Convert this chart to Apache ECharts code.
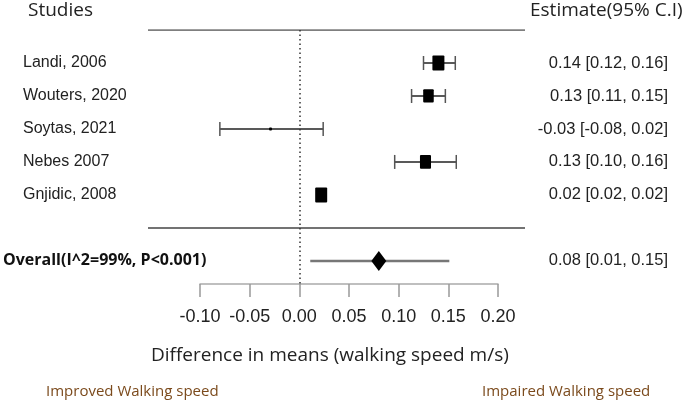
<!DOCTYPE html>
<html><head><meta charset="utf-8">
<script src="https://cdn.jsdelivr.net/npm/echarts@6/dist/echarts.min.js"></script>
<style>html,body{margin:0;padding:0;background:#fff}#c{width:685px;height:407px}</style>
</head><body><div id="c"></div>
<script>
// ---- data ----
const studies = ['Landi, 2006', 'Wouters, 2020', 'Soytas, 2021', 'Nebes 2007', 'Gnjidic, 2008'];
const estimates = [0.140, 0.130, -0.029, 0.127, 0.022];
const lower = [0.125, 0.113, -0.080, 0.096, 0.020];
const upper = [0.157, 0.147, 0.024, 0.158, 0.024];
const weights = [25, 22, 5, 23, 25];
const estimateLabels = ['0.14 [0.12, 0.16]', '0.13 [0.11, 0.15]', '-0.03 [-0.08, 0.02]', '0.13 [0.10, 0.16]', '0.02 [0.02, 0.02]'];
const overallName = 'Overall(I^2=99%, P<0.001)';
const overallValues = [0.080, 0.011, 0.151];
const overallLabel = '0.08 [0.01, 0.15]';
const xTicks = [-0.10, -0.05, 0.00, 0.05, 0.10, 0.15, 0.20];
const xTickLabels = ['-0.10', '-0.05', '0.00', '0.05', '0.10', '0.15', '0.20'];

// ---- layout rows (row index on the hidden y scale) ----
const studyRows = studies.map((s, i) => i + 1);
const sepRow = studies.length + 1;
const overallRow = studies.length + 2;
const yMax = 7.7;

const FONT = "'Liberation Sans', Arial, sans-serif";
const FONT2 = "'Open Sans', 'Noto Sans', sans-serif";

function lookup(arr, labels, v) {
  for (let i = 0; i < arr.length; i++) if (Math.abs(arr[i] - v) < 1e-9) return labels[i];
  return '';
}

const chart = echarts.init(document.getElementById('c'), null, { renderer: 'canvas' });

const yBase = { type: 'value', min: 0, max: yMax, interval: 1, inverse: true,
  axisLine: { show: false }, axisTick: { show: false }, splitLine: { show: false } };

chart.setOption({
  animation: false,
  backgroundColor: '#fff',
  title: [
    { text: 'Studies', left: 28, top: 1, padding: 0, textStyle: { fontFamily: FONT2, fontSize: 19, fontWeight: 'normal', color: '#222' } },
    { text: 'Estimate(95% C.I)', left: 530, top: 1, padding: 0, textStyle: { fontFamily: FONT2, fontSize: 19, fontWeight: 'normal', color: '#222' } },
    { text: 'Difference in means (walking speed m/s)', left: 151, top: 346, padding: 0, textStyle: { fontFamily: FONT2, fontSize: 19, fontWeight: 'normal', color: '#222' } },
    { text: 'Improved Walking speed', left: 46, top: 384, padding: 0, textStyle: { fontFamily: FONT2, fontSize: 15, fontWeight: 'normal', color: '#7b4a1c' } },
    { text: 'Impaired Walking speed', left: 482, top: 384, padding: 0, textStyle: { fontFamily: FONT2, fontSize: 15, fontWeight: 'normal', color: '#7b4a1c' } }
  ],
  grid: [
    { left: 199, width: 299, top: 30, height: 254 },
    { left: 148, width: 377, top: 30, height: 254 }
  ],
  xAxis: [
    {
      type: 'value', min: -0.10, max: 0.20, interval: 0.05, gridIndex: 0,
      axisLine: { show: true, onZero: false, lineStyle: { color: '#aaa', width: 1.5 } },
      axisTick: { show: true, length: 13, lineStyle: { color: '#999', width: 1.5 } },
      axisLabel: { margin: 24, fontFamily: FONT, fontSize: 18, color: '#222', showMinLabel: true, showMaxLabel: true,
        hideOverlap: false, formatter: v => lookup(xTicks, xTickLabels, v) },
      splitLine: { show: false }
    },
    { type: 'value', min: 0, max: 1, gridIndex: 1, show: false }
  ],
  yAxis: [
    Object.assign({}, yBase, { gridIndex: 0, position: 'left', axisLabel: { align: 'left', margin: 177, fontFamily: FONT, fontSize: 16, color: '#222',
      formatter: v => lookup(studyRows, studies, v) } }),
    Object.assign({}, yBase, { gridIndex: 0, position: 'right', axisLabel: { align: 'right', margin: 170, fontFamily: FONT, fontSize: 16.5, color: '#222',
      formatter: v => (v === overallRow ? overallLabel : lookup(studyRows, estimateLabels, v)) } }),
    Object.assign({}, yBase, { gridIndex: 0, position: 'left', axisLabel: { align: 'left', margin: 197, fontFamily: FONT2, fontSize: 16, fontWeight: 'bold', color: '#111',
      formatter: v => (v === overallRow ? overallName : '') } }),
    Object.assign({}, yBase, { gridIndex: 1, show: false })
  ],
  series: [
    { type: 'line', xAxisIndex: 1, yAxisIndex: 3, symbol: 'none', silent: true,
      data: [[0, 0], [1, 0]], lineStyle: { color: '#555', width: 1.5 } },
    { type: 'line', xAxisIndex: 1, yAxisIndex: 3, symbol: 'none', silent: true,
      data: [[0, sepRow], [1, sepRow]], lineStyle: { color: '#444', width: 1.5 } },
    { type: 'custom', silent: true, xAxisIndex: 0, yAxisIndex: 0,
      data: studies.map((s, i) => [estimates[i], lower[i], upper[i], studyRows[i], weights[i]]),
      encode: { x: [0, 1, 2], y: 3 },
      markLine: { silent: true, symbol: 'none', label: { show: false },
        lineStyle: { type: [1.5, 3], color: '#333', width: 1.5 }, data: [{ xAxis: 0 }] },
      renderItem: function (params, api) {
        const y = api.value(3);
        const c = api.coord([api.value(0), y]);
        const l = api.coord([api.value(1), y]);
        const r = api.coord([api.value(2), y]);
        const h = Math.max(3, api.value(4) * 0.6);
        const w = Math.max(3, h * 0.8);
        const capH = 14;
        return { type: 'group', children: [
          { type: 'line', shape: { x1: l[0], y1: c[1], x2: r[0], y2: c[1] }, style: { stroke: '#222', lineWidth: 1.5 } },
          { type: 'line', shape: { x1: l[0], y1: c[1] - capH / 2, x2: l[0], y2: c[1] + capH / 2 }, style: { stroke: '#555', lineWidth: 1.5 } },
          { type: 'line', shape: { x1: r[0], y1: c[1] - capH / 2, x2: r[0], y2: c[1] + capH / 2 }, style: { stroke: '#555', lineWidth: 1.5 } },
          { type: 'rect', shape: { x: c[0] - w / 2, y: c[1] - h / 2, width: w, height: h, r: 1 }, style: { fill: '#000' } }
        ] };
      }
    },
    { type: 'custom', silent: true, xAxisIndex: 0, yAxisIndex: 0,
      data: [[overallValues[0], overallValues[1], overallValues[2], overallRow]],
      encode: { x: [0, 1, 2], y: 3 },
      renderItem: function (params, api) {
        const y = api.value(3);
        const c = api.coord([api.value(0), y]);
        const l = api.coord([api.value(1), y]);
        const r = api.coord([api.value(2), y]);
        return { type: 'group', children: [
          { type: 'line', shape: { x1: l[0], y1: c[1], x2: r[0], y2: c[1] }, style: { stroke: '#777', lineWidth: 2.5 } },
          { type: 'polygon', shape: { points: [[c[0], c[1] - 10], [c[0] + 7.5, c[1]], [c[0], c[1] + 10], [c[0] - 7.5, c[1]]] }, style: { fill: '#000' } }
        ] };
      }
    }
  ]
});
</script>
</body></html>
